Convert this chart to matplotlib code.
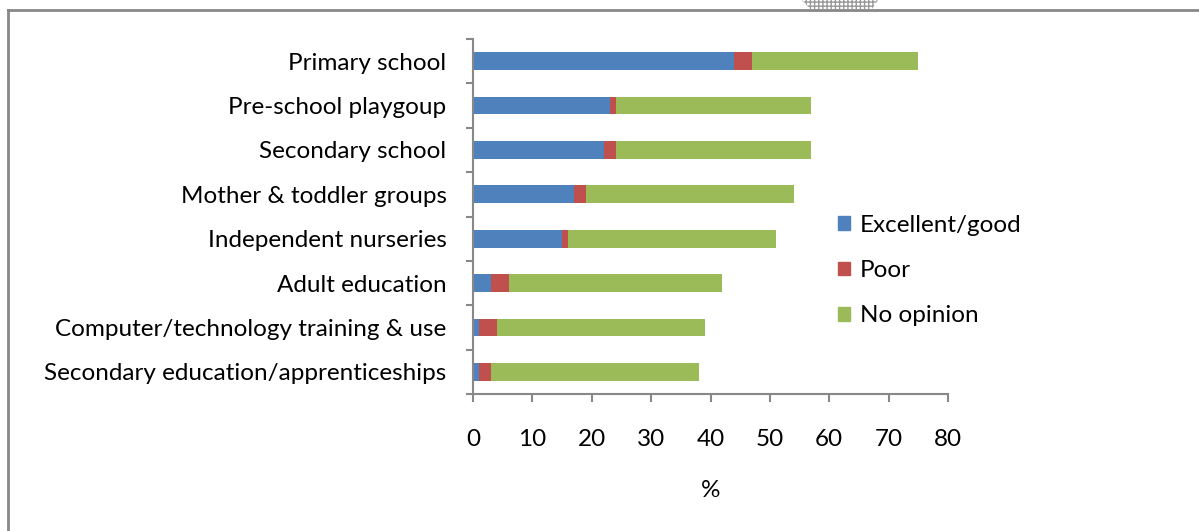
import matplotlib
matplotlib.use("Agg")
import matplotlib.pyplot as plt
from matplotlib.lines import Line2D
from matplotlib.patches import Polygon, Patch
import numpy as np

# --- data ---
categories = ["Primary school", "Pre-school playgoup", "Secondary school",
              "Mother & toddler groups", "Independent nurseries", "Adult education",
              "Computer/technology training & use", "Secondary education/apprenticeships"]
excellent = [44, 23, 22, 17, 15, 3, 1, 1]
poor = [3, 1, 2, 2, 1, 3, 3, 2]
no_opinion = [28, 33, 33, 35, 35, 36, 35, 35]
series_names = ["Excellent/good", "Poor", "No opinion"]
colors = ["#4F81BD", "#C0504D", "#9BBB59"]

W, H = 1199, 531
FS = 17.5
plt.rcParams['font.family'] = ['Lato', 'DejaVu Sans']

fig = plt.figure(figsize=(W / 100, H / 100), dpi=100)
ax = fig.add_axes([473 / W, 1 - 394 / H, (948 - 473) / W, (394 - 39) / H])

y = np.arange(len(categories))
left = np.zeros(len(categories))
for vals, name, c in zip([excellent, poor, no_opinion], series_names, colors):
    ax.barh(y, vals, left=left, height=0.4, color=c, label=name)
    left += np.array(vals)

ax.set_ylim(len(categories) - 0.5, -0.5)
ax.set_xlim(0, 80)
ax.set_xticks(range(0, 81, 10))
ax.set_yticks(y)
ax.set_yticklabels(categories, fontsize=FS)
ax.tick_params(axis='y', length=0, pad=19)
ax.set_yticks(np.arange(-0.5, len(categories), 1), minor=True)
ax.tick_params(axis='y', which='minor', length=5, color='#888888', width=1.5)
ax.tick_params(axis='x', length=6, color='#888888', width=1.5, labelsize=FS, pad=19)
ax.set_xlabel("%", fontsize=FS, labelpad=22)

for s in ['top', 'right']:
    ax.spines[s].set_visible(False)
for s in ['left', 'bottom']:
    ax.spines[s].set_color('#888888')
    ax.spines[s].set_linewidth(1.5)

# legend
handles = [Patch(color=c) for c in colors]
fig.legend(handles, series_names, loc='upper left',
           bbox_to_anchor=(816 / W, 1 - 193 / H), frameon=False, fontsize=FS,
           handlelength=0.5, handleheight=0.5, handletextpad=0.4, labelspacing=1.0)

# outer frame
fig.add_artist(Line2D([8 / W, 8 / W], [0, 1 - 10 / H], transform=fig.transFigure,
                      color='#888888', lw=2))
fig.add_artist(Line2D([8 / W, 1], [1 - 10 / H, 1 - 10 / H], transform=fig.transFigure,
                      color='#888888', lw=2))

# small hatched shape at the top edge
shape = Polygon([(802 / W, 1.0), (878 / W, 1.0), (872 / W, 1 - 9 / H), (810 / W, 1 - 9 / H)],
                closed=True, transform=fig.transFigure, facecolor='white',
                edgecolor='#999999', hatch='++++', lw=0)
fig.add_artist(shape)

fig.savefig("out.png", dpi=100)
